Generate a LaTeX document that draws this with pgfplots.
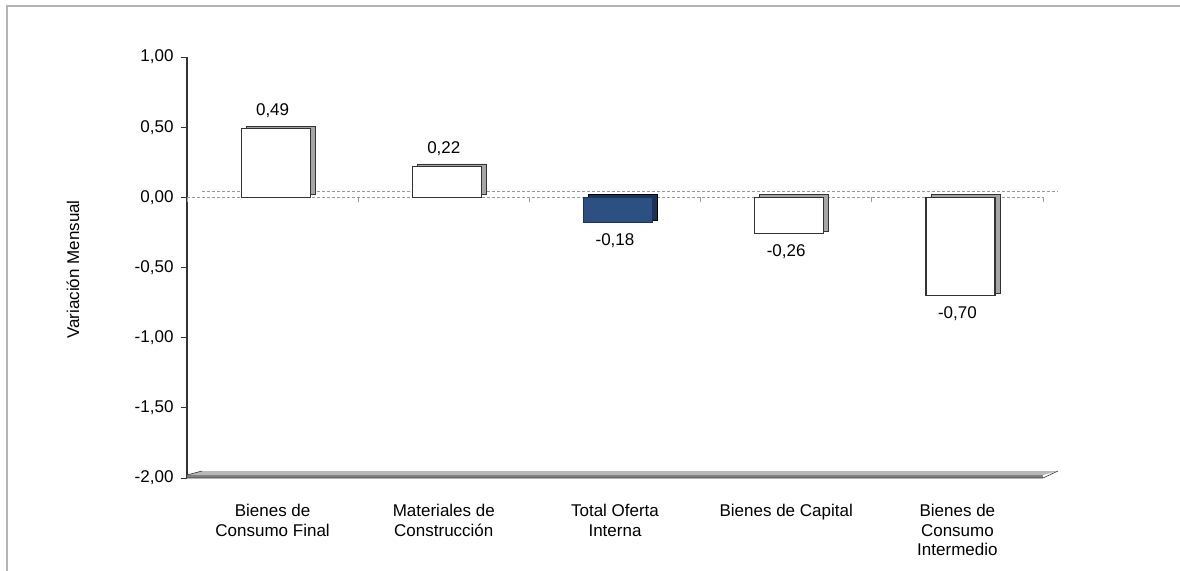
\documentclass[border=0pt]{standalone}
\usepackage{pgfplots}
\pgfplotsset{compat=1.18}
\usepackage{fontspec}
\setmainfont{Liberation Sans}
\definecolor{barblue}{HTML}{2C5082}
\definecolor{bardark}{HTML}{1B3358}
\definecolor{sidegray}{HTML}{A6A6A6}
\definecolor{edge}{HTML}{333333}
\definecolor{frame}{HTML}{B4B4B4}
\definecolor{zeroline}{HTML}{9A9A9A}

\begin{document}
\begin{tikzpicture}
% outer chart frame (only top and left edges are in view)
\draw[frame, line width=1.5pt] (7pt,-620pt) -- (7pt,-6pt) -- (1220pt,-6pt);

\begin{axis}[
    at={(187pt,-478pt)}, anchor=south west,
    scale only axis,
    width=856pt, height=421pt,
    xmin=0, xmax=5,
    ymin=-2, ymax=1,
    clip=false,
    axis y line*=left,
    axis x line*=bottom,
    x axis line style={draw=none},
    y axis line style={draw=edge, line width=1.2pt, -},
    xtick={0.5,1.5,2.5,3.5,4.5},
    xticklabels={{Bienes de\\Consumo Final},{Materiales de\\Construcción},{Total Oferta\\Interna},{Bienes de Capital},{Bienes de\\Consumo\\Intermedio}},
    xtick style={draw=none},
    xticklabel style={align=center, anchor=north, yshift=-17pt, font=\fontsize{17}{19.5}\selectfont},
    ytick={-2,-1.5,-1,-0.5,0,0.5,1},
    yticklabels={{-2,00},{-1,50},{-1,00},{-0,50},{0,00},{0,50},{1,00}},
    ytick style={draw=edge, line width=1pt},
    tick align=outside,
    major tick length=6pt,
    yticklabel style={font=\fontsize{17}{20}\selectfont, xshift=-4pt},
    ylabel={Variación Mensual},
    every axis y label/.style={at={(axis description cs:0,0.5)}, xshift=-114pt, yshift=-2pt, rotate=90, anchor=center, font=\fontsize{17}{20}\selectfont},
    /pgf/number format/fixed,
    /pgf/number format/fixed zerofill,
    /pgf/number format/precision=2,
    /pgf/number format/use comma,
    /pgf/number format/assume math mode=true,
]

% floor slab at -2
\fill[sidegray!80] ([yshift=3pt]axis cs:0,-2) -- ([yshift=3pt]axis cs:5,-2) -- ([xshift=15pt,yshift=7pt]axis cs:5,-2) -- ([xshift=15pt,yshift=7pt]axis cs:0,-2) -- cycle;
\fill[gray] (axis cs:0,-2) rectangle ([yshift=3pt]axis cs:5,-2);
\draw[edge, line width=0.6pt] (axis cs:0,-2) -- (axis cs:5,-2) -- ([xshift=15pt,yshift=7pt]axis cs:5,-2);
\draw[edge, line width=0.6pt] ([yshift=3pt]axis cs:0,-2) -- ([xshift=15pt,yshift=7pt]axis cs:0,-2);

% zero level: back wall line and front line with small ticks
\draw[zeroline, dash pattern=on 3pt off 2pt, line width=1pt] ([xshift=15pt,yshift=6pt]axis cs:0,0) -- ([xshift=15pt,yshift=6pt]axis cs:5,0);
\draw[zeroline, dash pattern=on 3pt off 2pt, line width=1pt] (axis cs:0,0) -- (axis cs:5,0);
\pgfplotsinvokeforeach{0,1,2,3,4,5}{
  \draw[zeroline, line width=1pt] (axis cs:#1,0) -- ([yshift=-5pt]axis cs:#1,0);
}

% back faces (depth of the 3D bars)
\addplot[ybar, bar width=69pt, bar shift=3pt, xshift=5pt, yshift=2.5pt,
    fill=sidegray, draw=edge, line width=0.8pt]
    coordinates {(0.5,0.49) (1.5,0.22) (3.5,-0.26) (4.5,-0.70)};
\addplot[ybar, bar width=69pt, bar shift=3pt, xshift=5pt, yshift=2.5pt,
    fill=bardark, draw=black, line width=0.8pt]
    coordinates {(2.5,-0.18)};

% front faces with values
\addplot[ybar, bar width=69pt, bar shift=3pt, fill=white, draw=edge, line width=1.2pt,
    nodes near coords, nodes near coords align={vertical},
    every node near coord/.append style={font=\fontsize{17}{20}\selectfont, black, inner sep=10pt}]
    coordinates {(0.5,0.49) (1.5,0.22) (3.5,-0.26) (4.5,-0.70)};
\addplot[ybar, bar width=69pt, bar shift=3pt, fill=barblue, draw=bardark, line width=1.2pt,
    nodes near coords, nodes near coords align={vertical},
    every node near coord/.append style={font=\fontsize{17}{20}\selectfont, black, inner sep=10pt}]
    coordinates {(2.5,-0.18)};
\end{axis}

\pgfresetboundingbox
\path (0,0) rectangle (1180pt,-570pt);
\end{tikzpicture}
\end{document}
